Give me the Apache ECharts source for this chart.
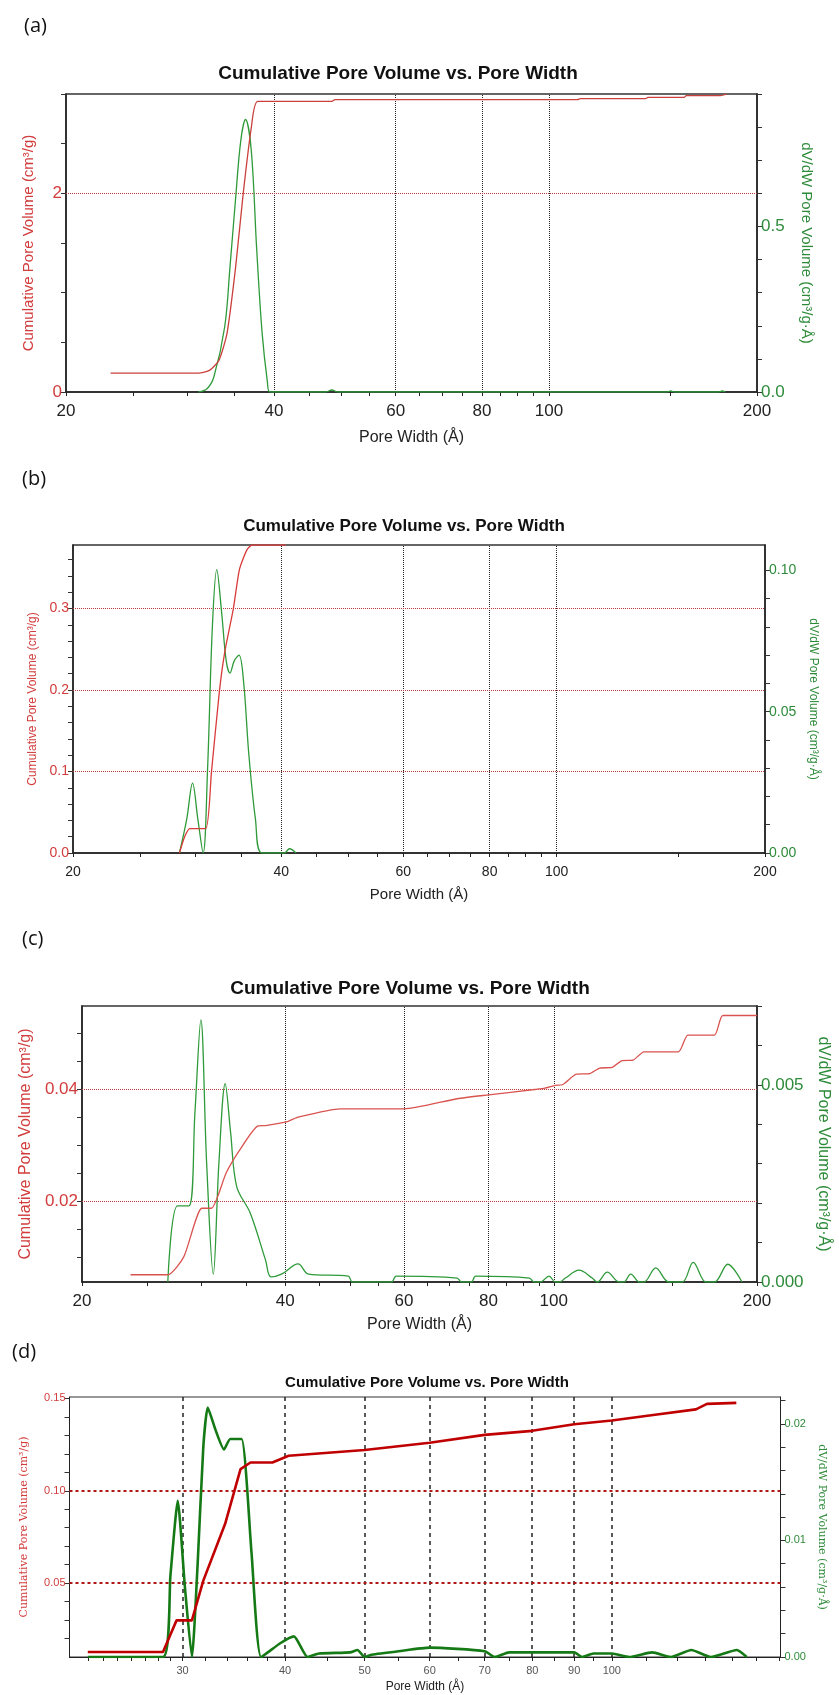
<!DOCTYPE html>
<html><head><meta charset="utf-8">
<script src="https://cdn.jsdelivr.net/npm/echarts@6/dist/echarts.min.js"></script>
<style>html,body{margin:0;padding:0;background:#fff}#c{width:839px;height:1695px}</style>
</head><body><div id="c"></div>
<script>
// ---------- DATA ----------
const panelLabels = ['(a)', '(b)', '(c)', '(d)'];
const chartTitle = 'Cumulative Pore Volume vs. Pore Width';
const xName = 'Pore Width (Å)';
const leftName = 'Cumulative Pore Volume (cm³/g)';
const rightName = 'dV/dW Pore Volume (cm³/g·Å)';

// x ticks (a, b, c)
const xLabelsABC = [20, 40, 60, 80, 100, 200];
const xTicksABC = [20, 25, 30, 35, 40, 45, 50, 55, 60, 65, 70, 75, 80, 85, 90, 95, 100, 150, 200];
const xGridABC = [40, 60, 80, 100];
// x ticks (d)
const xLabelsD = [30, 40, 50, 60, 70, 80, 90, 100];
const xTicksD = [23, 24, 25, 26, 27, 28, 29, 30, 32, 34, 36, 38, 40, 45, 50, 55, 60, 65, 70, 75, 80, 85, 90, 95, 100, 110, 120, 130, 140, 150, 160];
const xGridD = [30, 40, 50, 60, 70, 80, 90, 100];

// panel (a)
const aCumX = [23.2, 31.1, 32.3, 33.3, 34.2, 35.2, 36.1, 37.1, 37.9, 48.5, 49, 110, 111, 138, 139, 157, 158, 177, 181];
const aCumY = [0.19, 0.19, 0.22, 0.32, 0.59, 1.26, 2.0, 2.67, 2.926, 2.926, 2.944, 2.944, 2.954, 2.954, 2.967, 2.967, 2.984, 2.984, 3.0];
const aDvX = [31.1, 32.0, 32.74, 33.94, 34.55, 35.18, 35.81, 36.38, 37.08, 37.76, 38.44, 39.13, 39.47, 47.5, 48.5, 49.5, 148, 150, 152, 176, 178, 180];
const aDvY = [0, 0.01, 0.046, 0.197, 0.38, 0.58, 0.76, 0.823, 0.73, 0.43, 0.18, 0.03, 0, 0, 0.006, 0, 0, 0.003, 0, 0, 0.003, 0];
const aLeftTicks = [0, 0.5, 1, 1.5, 2, 2.5, 3];
const aLeftLabels = [0, 2];
const aRightTicks = [0, 0.1, 0.2, 0.3, 0.4, 0.5, 0.6, 0.7, 0.8, 0.9];
const aRightLabels = [0, 0.5];
const aRedGrid = [2];

// panel (b)
const bCumX = [28.5, 29.0, 29.5, 31.1, 31.7, 32.55, 33.13, 34.1, 34.8, 35.67, 36.3, 40.6];
const bCumY = [0, 0.02, 0.03, 0.03, 0.099, 0.198, 0.246, 0.30, 0.348, 0.372, 0.378, 0.378];
const bDvX = [28.5, 29.2, 29.77, 30.3, 30.84, 31.3, 31.8, 32.27, 32.8, 33.3, 33.72, 34.2, 34.75, 35.3, 35.9, 36.7, 37.5, 40.4, 41.1, 42.0];
const bDvY = [0, 0.012, 0.0247, 0.012, 0, 0.03, 0.08, 0.1003, 0.085, 0.068, 0.0637, 0.068, 0.070, 0.06, 0.035, 0.012, 0, 0, 0.0015, 0];
const bLeftTicks = [0, 0.02, 0.04, 0.06, 0.08, 0.1, 0.12, 0.14, 0.16, 0.18, 0.2, 0.22, 0.24, 0.26, 0.28, 0.3, 0.32, 0.34, 0.36];
const bLeftLabels = [0, 0.1, 0.2, 0.3];
const bRightTicks = [0, 0.01, 0.02, 0.03, 0.04, 0.05, 0.06, 0.07, 0.08, 0.09, 0.1];
const bRightLabels = [0, 0.05, 0.1];
const bRedGrid = [0.1, 0.2, 0.3];

// panel (c)
const cCumX = [23.6, 26.8, 28.3, 30.1, 31.1, 32.7, 34.2, 36.4, 37.4, 40.3, 41.8, 48.3, 60, 71.9, 80.1, 94.3, 97, 100.5, 103, 108, 113, 117, 122, 126, 131, 136, 153, 158, 173, 178, 200];
const cCumY = [0.0068, 0.0068, 0.010, 0.0187, 0.0187, 0.025, 0.029, 0.0334, 0.0335, 0.0342, 0.035, 0.0365, 0.0365, 0.0383, 0.039, 0.040, 0.0402, 0.0407, 0.0408, 0.0427, 0.0428, 0.0438, 0.0439, 0.0451, 0.0452, 0.0467, 0.0467, 0.0497, 0.0497, 0.0532, 0.0532];
const cDvX = [26.8, 27.7, 28.8, 29.4, 30.0, 30.6, 31.3, 31.9, 32.6, 33.2, 33.9, 35.5, 37.4, 38.1, 39.5, 41.8, 43.3, 49.6, 50.3, 57.5, 58.4, 71.9, 73, 75.5, 76.6, 92, 93.5, 95.5, 98.4, 100.5, 102, 104, 109, 114, 116, 120, 125, 127, 130, 134, 136, 141.6, 148, 155, 160.9, 168, 173, 181, 190];
const cDvY = [0, 0.00193, 0.00193, 0.0043, 0.00665, 0.003, 0.0002, 0.003, 0.00503, 0.0038, 0.00242, 0.00175, 0.00056, 0.00013, 0.0002, 0.00046, 0.0002, 0.00015, 0, 0, 0.00015, 0.0001, 0, 0, 0.00015, 0.0001, 0, 0, 0.00015, 0, 0, 0.0001, 0.0003, 0.0001, 0, 0.00025, 0, 0, 0.0002, 0, 0, 0.00036, 0, 0, 0.0005, 0, 0, 0.00045, 0];
const cLeftTicks = [0.01, 0.015, 0.02, 0.025, 0.03, 0.035, 0.04, 0.045, 0.05];
const cLeftLabels = [0.02, 0.04];
const cRightTicks = [0, 0.001, 0.002, 0.003, 0.004, 0.005, 0.006, 0.007];
const cRightLabels = [0, 0.005];
const cRedGrid = [0.02, 0.04];

// panel (d)
const dCumX = [23.0, 28.4, 29.5, 30.8, 31.8, 33.8, 35.3, 36.3, 38.6, 40.4, 50, 60, 70, 80, 90, 100, 112.3, 126.6, 130.6, 141.8];
const dCumY = [0.0128, 0.0128, 0.0299, 0.0299, 0.0514, 0.082, 0.1117, 0.1153, 0.1153, 0.1189, 0.122, 0.126, 0.1302, 0.1324, 0.136, 0.138, 0.141, 0.144, 0.147, 0.1475];
const dDvX = [23.0, 28.4, 29.0, 29.6, 30.2, 30.8, 31.3, 31.8, 32.2, 32.9, 33.7, 34.3, 35.4, 36.4, 37.4, 39.5, 41.0, 42.6, 44, 48, 49, 50, 51, 55, 60, 70, 72, 75, 90, 92, 95, 100, 105, 112, 118, 125, 132, 142, 146];
const dDvY = [0, 0, 0.007, 0.0134, 0.006, 0, 0.008, 0.018, 0.0214, 0.0195, 0.0178, 0.0187, 0.0187, 0.009, 0, 0.0012, 0.00177, 0, 0.0003, 0.0004, 0.0006, 0, 0.0002, 0.0005, 0.0008, 0.0005, 0, 0.0004, 0.0004, 0, 0.0003, 0.0003, 0, 0.0004, 0, 0.0006, 0, 0.0006, 0];
const dLeftTicks = [0.02, 0.03, 0.04, 0.05, 0.06, 0.07, 0.08, 0.09, 0.1, 0.11, 0.12, 0.13, 0.14, 0.15];
const dLeftLabels = [0.05, 0.1, 0.15];
const dRightTicks = [0, 0.002, 0.004, 0.006, 0.008, 0.01, 0.012, 0.014, 0.016, 0.018, 0.02, 0.022];
const dRightLabels = [0, 0.01, 0.02];
const dRedGrid = [0.05, 0.1];

// ---------- LAYOUT / STYLE ----------
const NARROW = "'Liberation Sans Narrow', 'Arial Narrow', 'Liberation Sans', sans-serif";
const SANS = "'Liberation Sans', Arial, sans-serif";
const RED = '#d23c3c', GREEN = '#2e8b3a';

const panels = [
  {grid: {left: 66, top: 94, width: 691, height: 298}, xMin: 20, xMax: 200, xLabels: xLabelsABC, xTicks: xTicksABC, xGrid: xGridABC,
   cumX: aCumX, cumY: aCumY, dvX: aDvX, dvY: aDvY, lMin: 0, lMax: 3, lTicks: aLeftTicks, lLabels: aLeftLabels, lDec: 0,
   rMin: 0, rMax: 0.9, rTicks: aRightTicks, rLabels: aRightLabels, rDec: 1, redGrid: aRedGrid,
   titleY: 76, titleX: 398, titleSize: 19, labelY: 27, labelX: 24, xNameGap: 33, xMargin: 11, tickFont: 17, nameFont: 15, lNameGap: 30, rNameGap: 42, xNameFont: 16,
   redLine: '#c9403c', greenLine: '#2f9a3a', lineW: 1.3, dashed: false, smoothDv: 0.35},
  {grid: {left: 73, top: 545, width: 692, height: 308}, xMin: 20, xMax: 200, xLabels: xLabelsABC, xTicks: xTicksABC, xGrid: xGridABC,
   cumX: bCumX, cumY: bCumY, dvX: bDvX, dvY: bDvY, lMin: 0, lMax: 0.378, lTicks: bLeftTicks, lLabels: bLeftLabels, lDec: 1,
   rMin: 0, rMax: 0.109, rTicks: bRightTicks, rLabels: bRightLabels, rDec: 2, redGrid: bRedGrid,
   titleY: 528, titleX: 404, titleSize: 17, labelY: 480, labelX: 22, xNameGap: 28, xMargin: 12, tickFont: 14, nameFont: 12, lNameGap: 30, rNameGap: 42, xNameFont: 15,
   redLine: '#d93a3a', greenLine: '#2f9a3a', lineW: 1.3, dashed: false, smoothDv: 0.35},
  {grid: {left: 82, top: 1006, width: 680, height: 276}, xMin: 20, xMax: 200, xLabels: xLabelsABC, xTicks: xTicksABC, xGrid: xGridABC,
   cumX: cCumX, cumY: cCumY, dvX: cDvX, dvY: cDvY, lMin: 0.0055, lMax: 0.0549, lTicks: cLeftTicks, lLabels: cLeftLabels, lDec: 2,
   rMin: 0, rMax: 0.007, rTicks: cRightTicks, rLabels: cRightLabels, rDec: 3, redGrid: cRedGrid,
   titleY: 991, titleX: 410, titleSize: 19, labelY: 940, labelX: 22, xNameGap: 30, xMargin: 11, tickFont: 17, nameFont: 16, lNameGap: 40, rNameGap: 58, xNameFont: 16,
   redLine: '#d9534f', greenLine: '#2f9a3a', lineW: 1.3, dashed: false, smoothDv: 0.35},
  {grid: {left: 69.5, top: 1397, width: 711, height: 260}, xMin: 21.85, xMax: 160.5, xLabels: xLabelsD, xTicks: xTicksD, xGrid: xGridD,
   cumX: dCumX, cumY: dCumY, dvX: dDvX, dvY: dDvY, lMin: 0.0101, lMax: 0.1507, lTicks: dLeftTicks, lLabels: dLeftLabels, lDec: 2,
   rMin: 0, rMax: 0.0223, rTicks: dRightTicks, rLabels: dRightLabels, rDec: 2, redGrid: dRedGrid,
   titleY: 1384, titleX: 427, titleSize: 15, labelY: 1353, labelX: 12, xNameGap: 22, xMargin: 8, tickFont: 11, nameFont: 11, lNameGap: 40, rNameGap: 14, xNameFont: 12,
   redLine: '#c00000', greenLine: '#157a15', lineW: 2.6, dashed: true, smoothDv: 0.18}
];

function zip(xs, ys) { return xs.map((x, i) => [x, ys[i]]); }

const option = {animation: false, backgroundColor: '#fff', grid: [], xAxis: [], yAxis: [], series: [], title: [], graphic: []};

panels.forEach((p, i) => {
  option.grid.push(Object.assign({show: true, borderColor: '#333', borderWidth: p.dashed ? 1 : 1.5, backgroundColor: 'transparent'}, p.grid));
  option.title.push({text: chartTitle, left: p.titleX, top: p.titleY - p.titleSize * 0.6, textAlign: 'center', padding: 0,
    textStyle: {fontFamily: NARROW, fontWeight: 'bold', fontSize: p.titleSize, color: '#111'}});
  option.graphic.push({type: 'text', left: p.labelX, top: p.labelY - 11, style: {text: panelLabels[i], font: "20px 'Open Sans', sans-serif", fill: '#111'}});

  option.xAxis.push({type: 'log', logBase: 10, gridIndex: i, min: p.xMin, max: p.xMax,
    name: xName, nameLocation: 'middle', nameGap: p.xNameGap + (p.xMargin - 6),
    nameTextStyle: {fontFamily: NARROW, fontSize: p.xNameFont, color: '#222'},
    axisLine: {show: true, lineStyle: {color: '#222', width: p.dashed ? 1 : 1.5}},
    axisTick: {show: true, inside: false, length: 4, customValues: p.xTicks, lineStyle: {color: '#222'}},
    axisLabel: {show: true, customValues: p.xLabels, margin: p.xMargin, fontFamily: NARROW, fontSize: p.tickFont, color: p.dashed ? '#555' : '#222'},
    splitLine: {show: false}, minorTick: {show: false}, minorSplitLine: {show: false}});

  const fmt = dec => (v => v.toFixed(dec));
  option.yAxis.push({type: 'value', gridIndex: i, position: 'left', min: p.lMin, max: p.lMax,
    name: leftName, nameLocation: 'middle', nameGap: p.lNameGap, nameRotate: 90,
    nameTextStyle: {fontFamily: p.dashed ? "'DejaVu Serif', serif" : SANS, fontSize: p.nameFont, color: RED},
    axisLine: {show: true, lineStyle: {color: '#222', width: p.dashed ? 1 : 1.5}},
    axisTick: {show: true, length: 5, customValues: p.lTicks, lineStyle: {color: '#333'}},
    axisLabel: {show: true, customValues: p.lLabels, margin: 4, formatter: fmt(p.lDec), fontFamily: NARROW, fontSize: p.tickFont, color: RED},
    splitLine: {show: false}});
  option.yAxis.push({type: 'value', gridIndex: i, position: 'right', min: p.rMin, max: p.rMax,
    name: rightName, nameLocation: 'middle', nameGap: p.rNameGap, nameRotate: -90,
    nameTextStyle: {fontFamily: p.dashed ? "'DejaVu Serif', serif" : SANS, fontSize: p.nameFont, color: GREEN},
    axisLine: {show: true, lineStyle: {color: '#222', width: p.dashed ? 1 : 1.5}},
    axisTick: {show: true, length: 5, customValues: p.rTicks, lineStyle: {color: '#333'}},
    axisLabel: {show: true, customValues: p.rLabels, margin: 4, formatter: fmt(p.rDec), fontFamily: NARROW, fontSize: p.tickFont, color: GREEN},
    splitLine: {show: false}});

  const vGrid = p.xGrid.map(v => ({xAxis: v}));
  const hGrid = p.redGrid.map(v => ({yAxis: v, lineStyle: {color: p.dashed ? '#b01818' : '#c0393b', type: p.dashed ? [3, 3] : 'dotted', width: p.dashed ? 2 : 1}}));
  option.series.push({type: 'line', name: 'Cumulative ' + i, xAxisIndex: i, yAxisIndex: 2 * i, data: zip(p.cumX, p.cumY),
    showSymbol: false, smooth: p.dashed ? false : 0.2, z: 3,
    lineStyle: {color: p.redLine, width: p.lineW},
    markLine: {silent: true, symbol: 'none', label: {show: false}, z: 1,
      lineStyle: {color: '#222', type: p.dashed ? [4, 4] : 'dotted', width: p.dashed ? 1.5 : 1},
      data: vGrid.concat(hGrid)}});
  option.series.push({type: 'line', name: 'dV/dW ' + i, xAxisIndex: i, yAxisIndex: 2 * i + 1, data: zip(p.dvX, p.dvY),
    showSymbol: false, smooth: p.smoothDv, z: 2,
    lineStyle: {color: p.greenLine, width: p.lineW}});
});

const chart = echarts.init(document.getElementById('c'), null, {renderer: 'canvas'});
chart.setOption(option);
</script>
</body></html>
